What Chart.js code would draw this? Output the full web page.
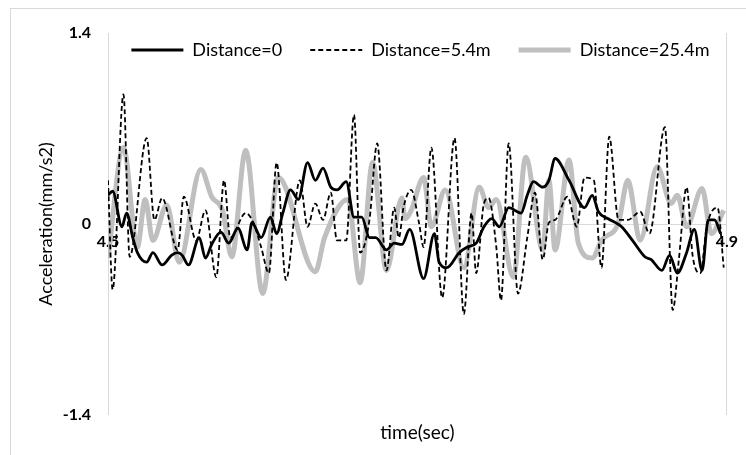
<!DOCTYPE html>
<html>
<head>
<meta charset="utf-8">
<script src="https://cdn.jsdelivr.net/npm/chart.js@4.4.1/dist/chart.umd.min.js"></script>
<style>
  html, body { margin: 0; padding: 0; background: #fff; }
  #wrap { position: relative; width: 746px; height: 455px; overflow: hidden; }
  #frame { position: absolute; left: 10px; top: 8px; width: 760px; height: 470px; border: 1px solid #d9d9d9; box-sizing: border-box; }
  canvas { position: absolute; left: 0; top: 0; }
</style>
</head>
<body>
<div id="wrap">
  <div id="frame"></div>
  <canvas id="c" width="746" height="455"></canvas>
</div>
<script>
// ---- data (time in seconds, acceleration in mm/s2) ----
const seriesNames = ['Distance=0', 'Distance=5.4m', 'Distance=25.4m'];
const xTicks = [4.5, 4.9];
const yTicks = [-1.4, 0, 1.4];

const t0 = [4.500, 4.503, 4.509, 4.512, 4.516, 4.519, 4.525, 4.529, 4.535, 4.541, 4.545, 4.548, 4.552, 4.559, 4.563, 4.567, 4.573, 4.578, 4.584, 4.590, 4.593,
            4.599, 4.605, 4.609, 4.613, 4.618, 4.623, 4.629, 4.634, 4.639, 4.644, 4.648, 4.654, 4.659, 4.664, 4.669, 4.673, 4.680, 4.685, 4.690, 4.695,
            4.704, 4.711, 4.714, 4.719, 4.727, 4.732, 4.738, 4.743, 4.748, 4.753, 4.759, 4.767, 4.771, 4.775, 4.781, 4.785, 4.789, 4.798,
            4.808, 4.813, 4.817, 4.823, 4.828, 4.832, 4.839, 4.847, 4.851, 4.858, 4.863, 4.868, 4.874, 4.879, 4.884, 4.888, 4.892, 4.896];
const v0 = [0.21, 0.24, -0.02, 0.08, -0.10, -0.21, -0.28, -0.21, -0.30, -0.23, -0.21, -0.23, -0.30, -0.10, -0.25, -0.15, -0.06, -0.14, -0.03, -0.19, 0.01,
            -0.10, 0.05, -0.07, 0.08, 0.25, 0.18, 0.45, 0.32, 0.41, 0.27, 0.25, 0.31, 0.05, 0.05, -0.10, -0.10, -0.19, -0.14, -0.15, -0.04,
            -0.40, -0.07, -0.28, -0.32, -0.21, -0.17, -0.14, -0.02, 0.04, -0.02, 0.12, 0.08, 0.21, 0.31, 0.27, 0.32, 0.48, 0.32,
            0.12, 0.21, 0.09, 0.04, 0.01, -0.02, -0.12, -0.24, -0.26, -0.34, -0.23, -0.36, -0.21, -0.04, -0.34, 0.03, 0.03, -0.07];

const t5 = [4.500, 4.503, 4.510, 4.514, 4.525, 4.530, 4.535, 4.545, 4.549, 4.557, 4.563, 4.570, 4.575, 4.579, 4.589, 4.594, 4.599, 4.604, 4.609, 4.615,
            4.624, 4.629, 4.634, 4.639, 4.644, 4.648, 4.654, 4.659, 4.663, 4.669, 4.674, 4.680, 4.685, 4.688, 4.691, 4.696, 4.701, 4.704, 4.709, 4.716,
            4.724, 4.730, 4.735, 4.738, 4.743, 4.746, 4.751, 4.754, 4.759, 4.765, 4.771, 4.776, 4.781, 4.785, 4.789, 4.797, 4.803, 4.808, 4.814, 4.819,
            4.824, 4.830, 4.836, 4.844, 4.850, 4.860, 4.865, 4.869, 4.874, 4.878, 4.883, 4.887, 4.894, 4.898];
const v5 = [0.32, -0.48, 0.95, -0.24, 0.63, 0.03, 0.19, -0.19, 0.20, -0.12, 0.10, -0.39, 0.32, -0.10, 0.08, 0.01, -0.17, -0.36, 0.45, -0.41,
            0.32, -0.02, 0.15, 0.03, 0.23, -0.12, -0.12, 0.80, -0.21, 0.03, 0.59, -0.34, 0.12, -0.10, 0.12, 0.25, 0.01, -0.17, 0.56, -0.54,
            0.63, -0.66, 0.08, -0.36, 0.15, 0.19, -0.17, -0.56, 0.59, -0.51, -0.10, 0.23, -0.26, 0.01, 0.03, 0.20, -0.02, 0.34, 0.32, -0.32,
            0.64, 0.03, 0.03, 0.09, -0.07, 0.71, -0.63, -0.26, 0.27, -0.24, -0.36, -0.02, 0.12, -0.32];

const t25 = [4.500, 4.510, 4.519, 4.524, 4.529, 4.538, 4.546, 4.560, 4.567, 4.574, 4.580, 4.589, 4.600, 4.610, 4.634, 4.640, 4.655, 4.663, 4.671, 4.680,
             4.690, 4.692, 4.696, 4.704, 4.709, 4.718, 4.730, 4.740, 4.746, 4.751, 4.762, 4.770, 4.781, 4.785, 4.789, 4.798, 4.804, 4.813, 4.819, 4.830,
             4.836, 4.844, 4.855, 4.864, 4.868, 4.874, 4.884, 4.890, 4.898];
const v25 = [-0.25, 0.56, -0.17, 0.18, -0.12, 0.14, -0.28, 0.40, 0.20, 0.10, -0.24, 0.54, -0.51, 0.34, -0.35, -0.10, 0.18, -0.43, 0.45, -0.34,
             0.19, 0.04, 0.10, 0.34, -0.02, 0.25, -0.32, 0.27, 0.12, 0.18, -0.39, 0.49, -0.19, 0.32, -0.19, 0.47, -0.14, -0.25, -0.12, 0.01,
             0.32, -0.12, 0.42, 0.15, 0.21, -0.02, 0.26, -0.07, 0.10];

// ---- chart ----
const FONT = 'Lato, "Open Sans", sans-serif';
const LEGEND_FONT = 18;
const LEGEND_PAD = 28;
const pts = (ts, vs) => ts.map((t, i) => ({ x: t, y: vs[i] }));

// The legend takes no layout space and is drawn inside the plot, near its top.
const legendInside = {
  id: 'legendInside',
  beforeLayout(chart) {
    const lg = chart.legend;
    if (lg && !lg._wrappedFit) {
      const orig = lg.fit.bind(lg);
      lg.fit = function () { orig(); this._realHeight = this.height; this.height = 0; };
      lg._wrappedFit = true;
    }
  },
  afterLayout(chart) {
    const lg = chart.legend;
    const ca = chart.chartArea;
    if (!lg) return;
    const cx = (ca.left + ca.right) / 2 + 3;
    lg.left = cx - 360;
    lg.right = cx + 360;
    lg.width = 720;
    lg.top = 50 - LEGEND_PAD - LEGEND_FONT / 2;
    lg.bottom = lg.top + (lg._realHeight || 80);
    lg.height = lg.bottom - lg.top;
  }
};

new Chart(document.getElementById('c'), {
  type: 'line',
  data: {
    datasets: [
      { label: seriesNames[0], data: pts(t0, v0), borderColor: '#000000', backgroundColor: '#000000', borderWidth: 2.8, pointRadius: 0, cubicInterpolationMode: 'monotone' },
      { label: seriesNames[1], data: pts(t5, v5), borderColor: '#000000', backgroundColor: '#000000', borderWidth: 1.8, borderDash: [5, 3], pointRadius: 0, cubicInterpolationMode: 'monotone' },
      { label: seriesNames[2], data: pts(t25, v25), borderColor: '#bfbfbf', backgroundColor: '#bfbfbf', borderWidth: 5, pointRadius: 0, cubicInterpolationMode: 'monotone' }
    ]
  },
  options: {
    responsive: false,
    animation: false,
    events: [],
    layout: { padding: { top: 33, left: 20, right: 13, bottom: 0 } },
    plugins: {
      tooltip: { enabled: false },
      legend: {
        position: 'top',
        labels: {
          usePointStyle: true,
          pointStyle: 'line',
          pointStyleWidth: 52,
          boxHeight: LEGEND_FONT,
          padding: LEGEND_PAD,
          color: '#000000',
          font: { family: FONT, size: LEGEND_FONT },
          generateLabels(chart) {
            const items = Chart.defaults.plugins.legend.labels.generateLabels(chart);
            items.forEach(it => {
              const ds = chart.data.datasets[it.datasetIndex];
              it.lineDash = ds.borderDash || [];
              it.lineWidth = ds.borderWidth;
              it.strokeStyle = ds.borderColor;
            });
            return items;
          }
        }
      }
    },
    scales: {
      x: {
        type: 'linear',
        min: 4.5, max: 4.9,
        position: { y: 0 },
        afterFit(s) { s.height = 0; },
        afterBuildTicks(s) { s.ticks = xTicks.map(v => ({ value: v })); },
        grid: { display: true, color: '#d9d9d9', lineWidth: 1, drawTicks: false },
        border: { display: true, color: '#d9d9d9', width: 1 },
        ticks: {
          padding: 8,
          color: '#000000',
          font: { family: FONT, size: 16, weight: 'bold' },
          callback: v => v.toFixed(1),
          maxRotation: 0
        }
      },
      x2: {
        type: 'linear',
        min: 4.5, max: 4.9,
        position: 'bottom',
        afterFit(s) { s.height = 40; },
        grid: { display: false },
        border: { display: false },
        ticks: { display: false },
        title: { display: true, text: 'time(sec)', color: '#000000', font: { family: FONT, size: 19 }, padding: { top: 0, bottom: 11 } }
      },
      y: {
        type: 'linear',
        min: -1.4, max: 1.4,
        position: 'left',
        afterFit(s) { s.width = 88; },
        afterBuildTicks(s) { s.ticks = yTicks.map(v => ({ value: v })); },
        grid: { display: false, drawTicks: false },
        border: { display: false },
        ticks: {
          padding: 17,
          color: '#000000',
          font: { family: FONT, size: 16, weight: 'bold' },
          callback: v => (v === 0 ? '0' : v.toFixed(1))
        },
        title: { display: true, text: 'Acceleration(mm/s2)', color: '#000000', font: { family: FONT, size: 18 }, padding: { top: 15, bottom: 0 } }
      }
    }
  },
  plugins: [legendInside]
});
</script>
</body>
</html>
